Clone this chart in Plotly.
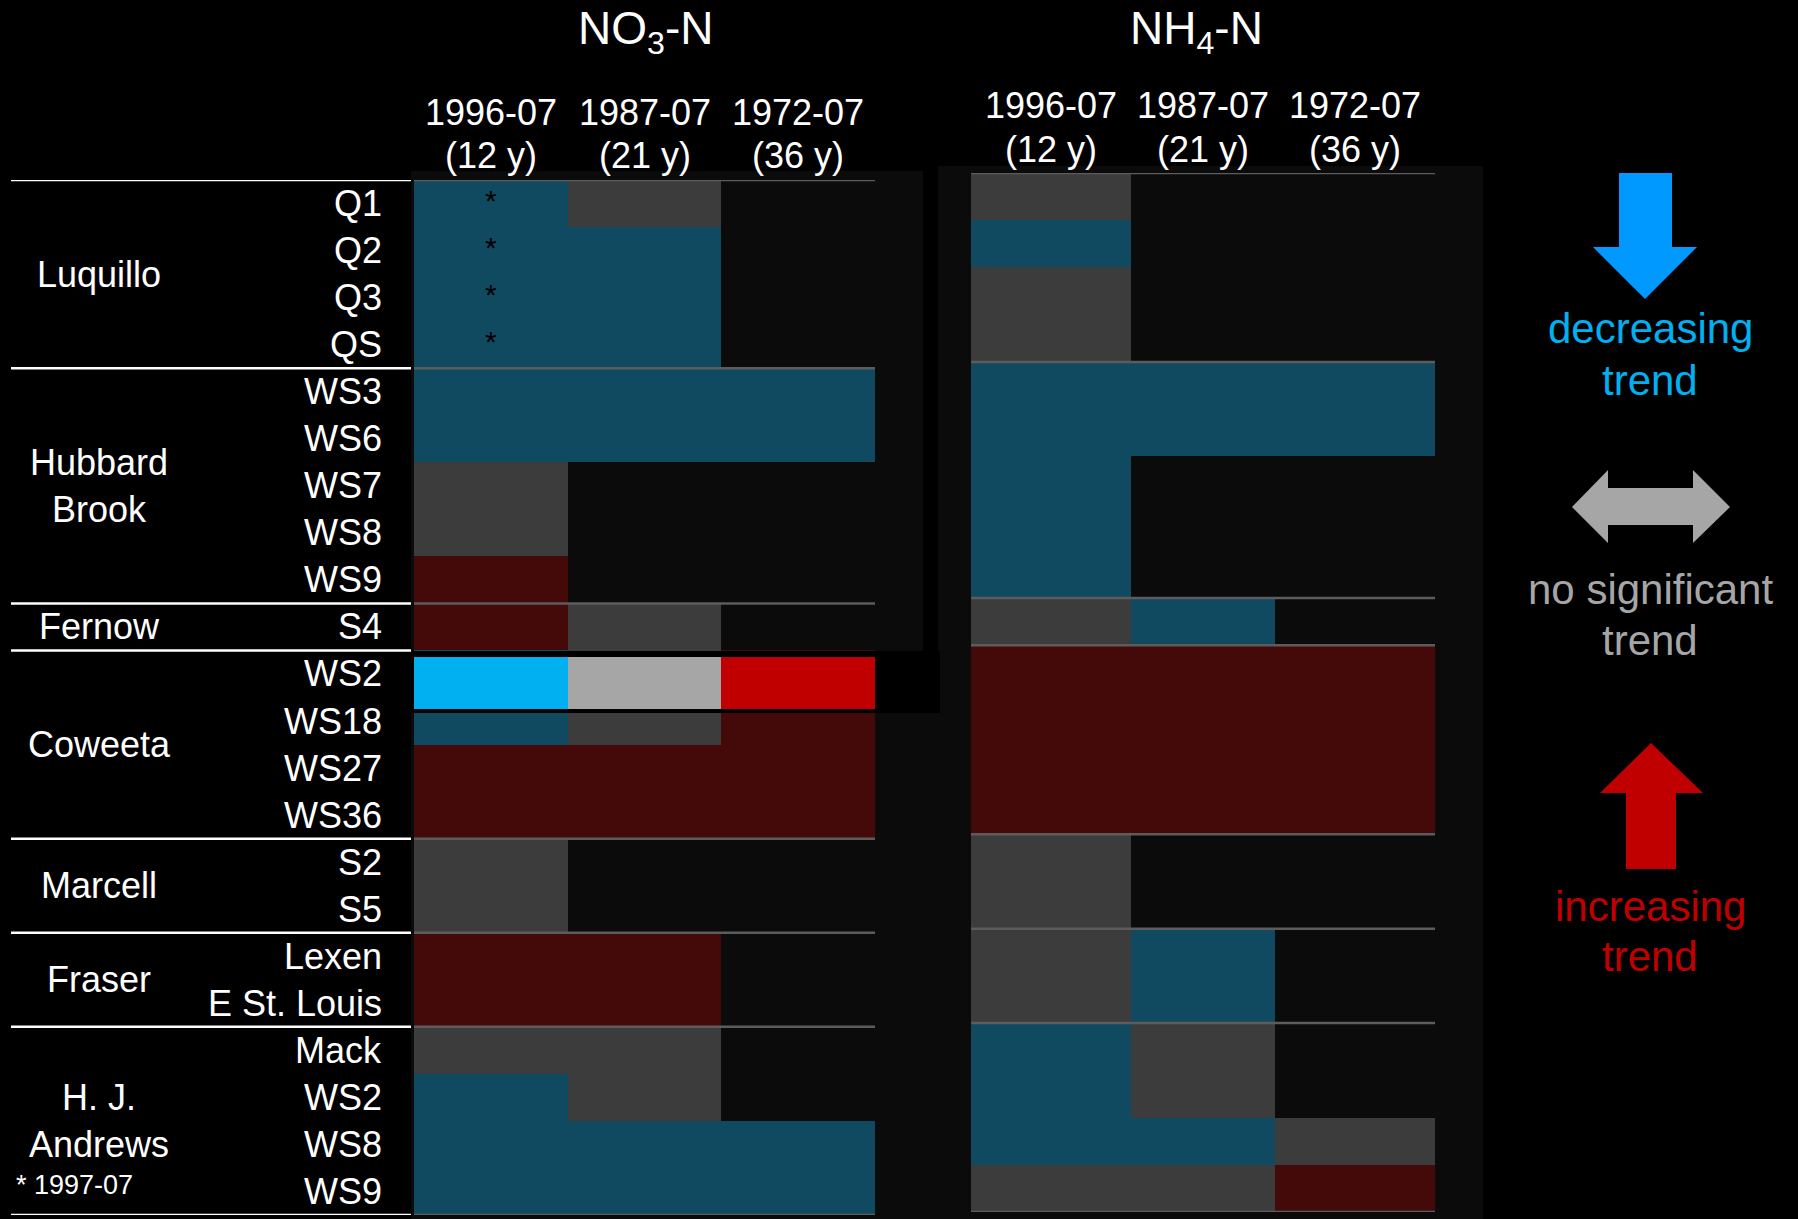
import plotly.graph_objects as go

# ---------------- data ----------------
groups = ["Luquillo", "Hubbard<br>Brook", "Fernow", "Coweeta", "Marcell", "Fraser", "H. J.<br>Andrews"]
group_sizes = [4, 5, 1, 4, 2, 2, 4]
sites = ["Q1", "Q2", "Q3", "QS",
         "WS3", "WS6", "WS7", "WS8", "WS9",
         "S4",
         "WS2", "WS18", "WS27", "WS36",
         "S2", "S5",
         "Lexen", "E St. Louis",
         "Mack", "WS2", "WS8", "WS9"]
periods = ["1996-07", "1987-07", "1972-07"]
period_lengths = ["(12 y)", "(21 y)", "(36 y)"]

# D = decreasing, N = no significant trend, I = increasing, "" = no data
no3_trend = [
    ["D", "N", ""], ["D", "D", ""], ["D", "D", ""], ["D", "D", ""],
    ["D", "D", "D"], ["D", "D", "D"], ["N", "", ""], ["N", "", ""], ["I", "", ""],
    ["I", "N", ""],
    ["D", "N", "I"], ["D", "N", "I"], ["I", "I", "I"], ["I", "I", "I"],
    ["N", "", ""], ["N", "", ""],
    ["I", "I", ""], ["I", "I", ""],
    ["N", "N", ""], ["D", "N", ""], ["D", "D", "D"], ["D", "D", "D"],
]
nh4_trend = [
    ["N", "", ""], ["D", "", ""], ["N", "", ""], ["N", "", ""],
    ["D", "D", "D"], ["D", "D", "D"], ["D", "", ""], ["D", "", ""], ["D", "", ""],
    ["N", "D", ""],
    ["I", "I", "I"], ["I", "I", "I"], ["I", "I", "I"], ["I", "I", "I"],
    ["N", "", ""], ["N", "", ""],
    ["N", "D", ""], ["N", "D", ""],
    ["D", "N", ""], ["D", "N", ""], ["D", "D", "N"], ["N", "N", "I"],
]
no3_1997_rows = ["Q1", "Q2", "Q3", "QS"]   # first period is 1997-07 (*)
highlight_row = 10                          # Coweeta WS2 NO3 row shown highlighted
footnote = "* 1997-07"
legend_labels = [("decreasing", "trend"), ("no significant", "trend"), ("increasing", "trend")]

# ---------------- style / layout constants ----------------
W, H = 1798, 1219
FONT = "Liberation Sans, Arial, sans-serif"
CODE = {"": 0, "D": 1, "N": 2, "I": 3}
DARK = ["#0b0b0b", "#0f4a60", "#3c3c3c", "#440a0a"]
BRIGHT = ["#000000", "#00B0F0", "#A6A6A6", "#C00000"]
NH4_COL_EDGES = [0, 160, 304, 464]


def px(x):
    return x / W


def py(y):
    return 1 - y / H


def discrete_scale(cols):
    n = len(cols)
    sc = []
    for i, c in enumerate(cols):
        sc.append([i / n, c])
        sc.append([(i + 1) / n, c])
    return sc


nrows = len(sites)
rows = list(range(nrows))
z_no3 = [[CODE[v] for v in r] for r in no3_trend]
z_nh4 = [[CODE[v] for v in r] for r in nh4_trend]

fig = go.Figure()

fig.add_trace(go.Heatmap(z=z_no3, x=[0, 1, 2], y=rows, zmin=-0.5, zmax=3.5,
                         colorscale=discrete_scale(DARK), showscale=False,
                         hoverinfo="skip", xaxis="x", yaxis="y"))
fig.add_trace(go.Heatmap(z=z_nh4, x=NH4_COL_EDGES, y=rows, zmin=-0.5, zmax=3.5,
                         colorscale=discrete_scale(DARK), showscale=False,
                         hoverinfo="skip", xaxis="x2", yaxis="y2"))

# asterisks (1997-07)
star_rows = [sites.index(s) for s in no3_1997_rows]
fig.add_trace(go.Scatter(x=[0] * len(star_rows), y=star_rows, mode="text",
                         text=["*"] * len(star_rows),
                         textfont=dict(size=30, color="black", family=FONT),
                         hoverinfo="skip", xaxis="x", yaxis="y", showlegend=False))

# highlighted row overlay (own axes, drawn on top)
x3_range = [-0.5 + (411 - 414) / 153.67, -0.5 + (940 - 414) / 153.67]
y3_range = [-0.5 - (713 - 709) / 52.0, 0.5 + (657 - 651) / 52.0]
fig.add_trace(go.Heatmap(z=[[0]], x=x3_range, y=y3_range, zmin=0, zmax=1,
                         colorscale=[[0, "black"], [1, "black"]], showscale=False,
                         hoverinfo="skip", xaxis="x3", yaxis="y3"))
fig.add_trace(go.Heatmap(z=[z_no3[highlight_row]], x=[0, 1, 2], y=[0], zmin=-0.5, zmax=3.5,
                         colorscale=discrete_scale(BRIGHT), showscale=False,
                         hoverinfo="skip", xaxis="x3", yaxis="y3"))

ax = dict(visible=False, fixedrange=True, showgrid=False, zeroline=False)
fig.update_layout(
    width=W, height=H, autosize=False,
    margin=dict(l=0, r=0, t=0, b=0, pad=0),
    paper_bgcolor="black", plot_bgcolor="rgba(0,0,0,0)",
    showlegend=False,
    font=dict(family=FONT, color="white"),
    xaxis=dict(domain=[px(414), px(875)], range=[-0.5, 2.5], **ax),
    yaxis=dict(domain=[py(1215), py(180)], range=[nrows - 0.5, -0.5], **ax),
    xaxis2=dict(domain=[px(971), px(1435)], range=[NH4_COL_EDGES[0], NH4_COL_EDGES[-1]], **ax),
    yaxis2=dict(domain=[py(1212), py(173)], range=[nrows - 0.5, -0.5], **ax),
    xaxis3=dict(domain=[px(411), px(940)], range=x3_range, **ax),
    yaxis3=dict(domain=[py(713), py(651)], range=y3_range, **ax),
)

shapes = []
# subtle panel backgrounds
for (x0, y0, x1, y1) in [(411, 171, 923, 652), (938, 166, 1483, 1219), (411, 713, 940, 1219)]:
    shapes.append(dict(type="rect", xref="paper", yref="paper", x0=px(x0), x1=px(x1),
                       y0=py(y1), y1=py(y0), fillcolor="#0b0b0b", line=dict(width=0), layer="below"))

# group boundaries
bounds = [-0.5]
for s in group_sizes:
    bounds.append(bounds[-1] + s)
for b in bounds:
    shapes.append(dict(type="line", xref="paper", yref="y", x0=px(11), x1=px(411), y0=b, y1=b,
                       line=dict(color="white", width=2.5)))
    if not (highlight_row - 0.5 <= b <= highlight_row + 0.5):
        shapes.append(dict(type="line", xref="x", yref="y", x0=-0.5, x1=2.5, y0=b, y1=b,
                           line=dict(color="#5c5c5c", width=2.5)))
    shapes.append(dict(type="line", xref="x2", yref="y2", x0=NH4_COL_EDGES[0], x1=NH4_COL_EDGES[-1],
                       y0=b, y1=b, line=dict(color="#5c5c5c", width=2.5)))


def poly(pts, color):
    d = "M " + " L ".join(f"{px(x):.5f},{py(y):.5f}" for x, y in pts) + " Z"
    return dict(type="path", xref="paper", yref="paper", path=d, fillcolor=color,
                line=dict(width=0), layer="above")


shapes.append(poly([(1619, 173), (1672, 173), (1672, 247), (1697, 247), (1645, 299),
                    (1593, 247), (1619, 247)], "#0099FF"))
shapes.append(poly([(1572, 507), (1608, 470), (1608, 488), (1693, 488), (1693, 470), (1730, 507),
                    (1693, 543), (1693, 525), (1608, 525), (1608, 543)], "#A6A6A6"))
shapes.append(poly([(1651, 743), (1703, 793), (1676, 793), (1676, 869), (1626, 869),
                    (1626, 793), (1600, 793)], "#C00000"))
fig.update_layout(shapes=shapes)

ann = []
ann.append(dict(text="NO<sub>3</sub>-N", x=px(645), y=py(31), xref="paper", yref="paper",
                showarrow=False, font=dict(size=46, color="white"), xanchor="center", yanchor="middle"))
ann.append(dict(text="NH<sub>4</sub>-N", x=px(1196), y=py(31), xref="paper", yref="paper",
                showarrow=False, font=dict(size=46, color="white"), xanchor="center", yanchor="middle"))

nh4_centers = [(NH4_COL_EDGES[i] + NH4_COL_EDGES[i + 1]) / 2 for i in range(3)]
for i in range(3):
    for xr, xv, y1, y2 in [("x", i, 112, 155), ("x2", nh4_centers[i], 105.5, 150)]:
        ann.append(dict(text=periods[i], x=xv, xref=xr, y=py(y1), yref="paper", showarrow=False,
                        font=dict(size=36, color="white"), xanchor="center", yanchor="middle"))
        ann.append(dict(text=period_lengths[i], x=xv, xref=xr, y=py(y2), yref="paper", showarrow=False,
                        font=dict(size=36, color="white"), xanchor="center", yanchor="middle"))

for i, s in enumerate(sites):
    ann.append(dict(text=s, x=px(384), xref="paper", y=i, yref="y", showarrow=False,
                    font=dict(size=36, color="white"), xanchor="right", yanchor="middle"))

start = 0
for g, n in zip(groups, group_sizes):
    ann.append(dict(text=g, x=px(99), xref="paper", y=start + (n - 1) / 2, yref="y", showarrow=False,
                    font=dict(size=36, color="white"), xanchor="center", yanchor="middle"))
    start += n

ann.append(dict(text=footnote, x=px(14), xref="paper", y=py(1185), yref="paper", showarrow=False,
                font=dict(size=27, color="white"), xanchor="left", yanchor="middle"))

legend_colors = ["#00B0F0", "#A6A6A6", "#C00000"]
legend_y = [(329, 380), (589, 640), (906, 956)]
for (l1, l2), col, (y1, y2) in zip(legend_labels, legend_colors, legend_y):
    for t, yy in [(l1, y1), (l2, y2)]:
        ann.append(dict(text=t, x=px(1650), y=py(yy), xref="paper", yref="paper", showarrow=False,
                        font=dict(size=42, color=col), xanchor="center", yanchor="middle"))

fig.update_layout(annotations=ann)

fig.write_html("out.html", config={"displayModeBar": False},
               post_script="document.body.style.margin='0';document.body.style.overflow='hidden';")
